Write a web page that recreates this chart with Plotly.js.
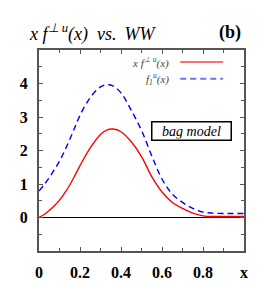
<!DOCTYPE html>
<html>
<head>
<meta charset="utf-8">
<script src="https://cdn.plot.ly/plotly-3.0.1.min.js"></script>
<style>html,body{margin:0;padding:0;background:#fff;}#chart{width:273px;height:286px;}</style>
</head>
<body>
<div id="chart"></div>
<script>
// x grid
const xs = [0, 0.025, 0.05, 0.075, 0.1, 0.125, 0.15, 0.175, 0.2, 0.25, 0.3, 0.33, 0.36, 0.4, 0.45, 0.5, 0.55, 0.6, 0.65, 0.7, 0.75, 0.8, 0.85, 0.9, 0.95, 1.0];
// x f^{perp u}(x), bag model (red solid)
const xfPerp = [0, 0.09, 0.21, 0.35, 0.52, 0.73, 0.97, 1.25, 1.55, 2.08, 2.48, 2.61, 2.64, 2.56, 2.26, 1.82, 1.22, 0.76, 0.45, 0.27, 0.13, 0.05, 0.03, 0.03, 0.03, 0.03];
// f_1^u(x), WW (blue dashed)
const f1u = [0.79, 0.98, 1.19, 1.43, 1.68, 1.99, 2.33, 2.69, 3.05, 3.58, 3.9, 3.96, 3.93, 3.72, 3.2, 2.6, 1.84, 1.15, 0.7, 0.45, 0.27, 0.16, 0.13, 0.12, 0.12, 0.12];
const xTickVals = [0, 0.2, 0.4, 0.6, 0.8, 1];
const xTickText = ['0', '0.2', '0.4', '0.6', '0.8', 'x'];
const yTickVals = [0, 1, 2, 3, 4];
const yTickText = ['0', '1', '2', '3', '4'];

const serif = 'Liberation Serif, Times New Roman, serif';

const traces = [
  {x: xs, y: xfPerp, mode: 'lines', line: {color: '#ff0000', width: 1.4, shape: 'spline', smoothing: 1}, showlegend: false, hoverinfo: 'skip'},
  {x: xs, y: f1u, mode: 'lines', line: {color: '#0000ff', width: 1.4, dash: '6px,4px', shape: 'spline', smoothing: 1}, showlegend: false, hoverinfo: 'skip'}
];

const axisCommon = {
  showline: true, mirror: 'allticks', linecolor: '#555', linewidth: 2,
  ticks: 'inside', ticklen: 4, tickcolor: '#555', tickwidth: 1,
  showgrid: false, fixedrange: true,
  tickfont: {family: serif, size: 16, color: '#000', weight: 'bold'}
};

const layout = {
  width: 273, height: 286,
  margin: {l: 39, r: 29, t: 50, b: 35},
  paper_bgcolor: '#fff', plot_bgcolor: '#fff',
  xaxis: Object.assign({}, axisCommon, {
    range: [0, 1], tickmode: 'array', tickvals: xTickVals, ticktext: xTickText,
    zeroline: false, ticklabelstandoff: 6,
    minor: {dtick: 0.1, ticks: 'inside', ticklen: 3, tickcolor: '#555'}
  }),
  yaxis: Object.assign({}, axisCommon, {
    range: [-1, 5], tickmode: 'array', tickvals: yTickVals, ticktext: yTickText,
    zeroline: true, zerolinecolor: '#000', zerolinewidth: 1.5, ticklabelstandoff: 6,
    minor: {dtick: 0.5, tick0: 0, ticks: 'inside', ticklen: 3, tickcolor: '#555'}
  }),
  shapes: [
    {type: 'line', xref: 'paper', yref: 'paper', x0: 0.689, x1: 0.898, y0: 0.94, y1: 0.94, line: {color: '#ff7070', width: 2}},
    {type: 'line', xref: 'paper', yref: 'paper', x0: 0.689, x1: 0.898, y0: 0.857, y1: 0.857, line: {color: '#7070ff', width: 2, dash: '6px,4px'}}
  ],
  annotations: [
    {xref: 'paper', yref: 'paper', x: -0.06, y: 1.085, xanchor: 'left', yanchor: 'middle', showarrow: false,
     text: '<i>x f<sup>\u22a5 u</sup>(x) \u2005vs. \u2009WW</i>', font: {family: serif, size: 18, color: '#000'}},
    {xref: 'paper', yref: 'paper', x: 0.995, y: 1.085, xanchor: 'right', yanchor: 'middle', showarrow: false,
     text: '<b>(b)</b>', font: {family: serif, size: 18, color: '#000'}},
    {xref: 'paper', yref: 'paper', x: 0.645, y: 0.94, xanchor: 'right', yanchor: 'middle', showarrow: false,
     text: '<i>x f<sup>\u22a5 u</sup>(x)</i>', font: {family: serif, size: 11, color: '#444'}},
    {xref: 'paper', yref: 'paper', x: 0.645, y: 0.857, xanchor: 'right', yanchor: 'middle', showarrow: false,
     text: '<i>f<sub>1</sub><sup>u</sup>(x)</i>', font: {family: serif, size: 11, color: '#444'}},
    {xref: 'x', yref: 'y', x: 0.745, y: 2.58, xanchor: 'center', yanchor: 'middle', showarrow: false,
     text: '<i>bag model</i>', font: {family: serif, size: 14, color: '#000'},
     bordercolor: '#000', borderwidth: 1.5, borderpad: 1, bgcolor: '#fff', width: 76}
  ]
};

Plotly.newPlot('chart', traces, layout, {staticPlot: true, displayModeBar: false});
</script>
</body>
</html>
